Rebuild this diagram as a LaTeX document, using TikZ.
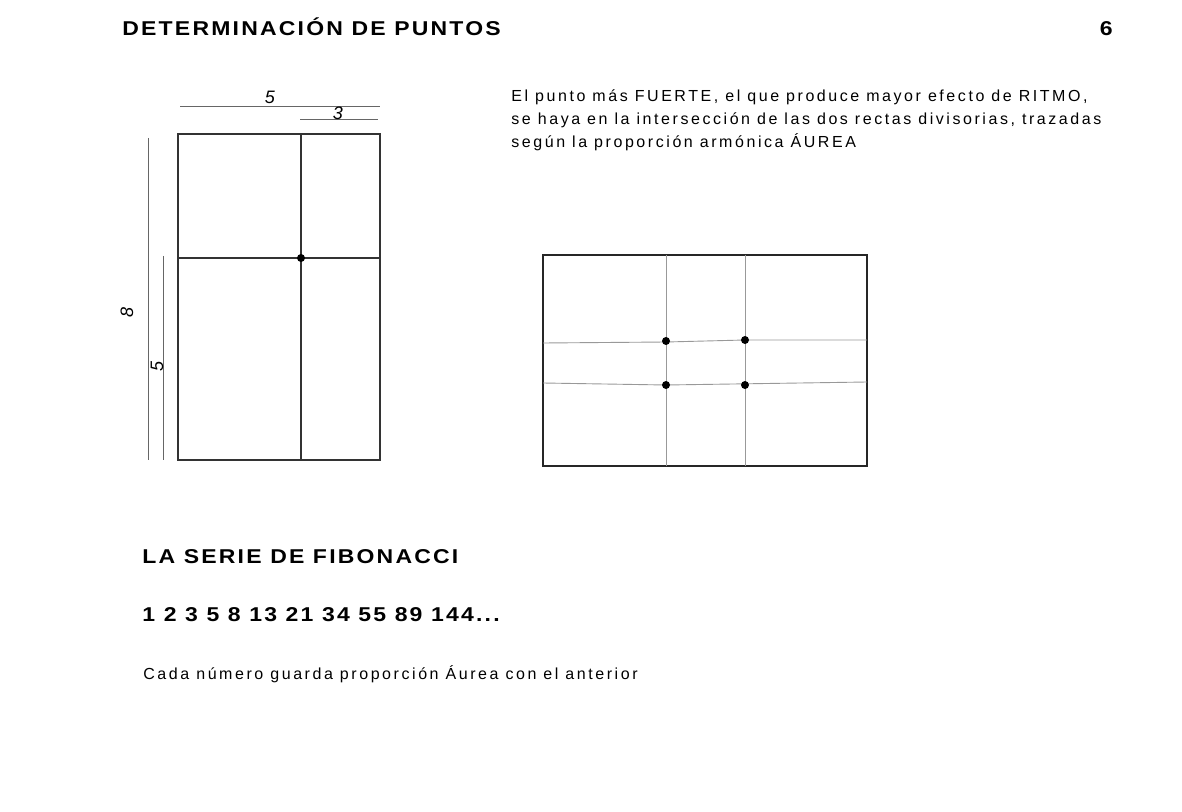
\documentclass[tikz,border=0pt]{standalone}
\usepackage{fontspec}
\setmainfont{Liberation Sans}
\newfontfamily\headfont[FakeStretch=1.15, LetterSpace=11]{Liberation Sans}
\newfontfamily\bodyfont[LetterSpace=16]{Liberation Sans}
\usepackage{tikz}
\usetikzlibrary{positioning}
\tikzset{every picture/.style={x=0.5pt, y=-0.5pt},
         heading/.style={font=\headfont\bfseries\fontsize{10}{12}\selectfont, anchor=base west, inner sep=0pt},
         bodytext/.style={font=\bodyfont\fontsize{8}{11.5}\selectfont, anchor=base west, inner sep=0pt},
         hand/.style={font=\rmfamily\itshape\fontsize{9}{9}\selectfont, inner sep=0pt},
         frame/.style={line width=1pt, black!85},
         divide/.style={line width=0.8pt, black!80},
         measure/.style={line width=0.5pt, black!60},
         faint/.style={line width=0.45pt, black!40}
        }

\begin{document}
\begin{tikzpicture}
\useasboundingbox (0,0) rectangle (1182,812);

%Heading
\node[heading] (title) at (122,36) {DETERMINACIÓN DE PUNTOS};
\node[heading, anchor=base east] (pagenum) at (1113,36) {6};

%First rectangle
\coordinate (topleft) at (178,134);
\coordinate (botright) at (380,460);
\draw[divide] (topleft) rectangle (botright);
\draw[divide] (301,134) -- (301,460);
\draw[divide] (178,258) -- (380,258);
\coordinate (P0) at (301,258);
\fill[black] (P0) circle (2pt);

%measures
\draw[measure] (180,107) -- (380,107);
\draw[measure] (300,120) -- (378,120);
\draw[measure] (148,138) -- (148,460);
\draw[measure] (163,256) -- (163,460);
\node[hand] (wfive) at (270,97) {5};
\node[hand] (wthree) at (338,113) {3};
\node[hand, rotate=90] (height) at (127,312) {8};
\node[hand, rotate=90] (hfive) at (157,366) {5};

%Text
\node[bodytext] (para1) at (511,101.5) {El punto más FUERTE, el que produce mayor efecto de RITMO,};
\node[bodytext] (para2) at (511,124.5) {se haya en la intersección de las dos rectas divisorias, trazadas};
\node[bodytext] (para3) at (511,147.5) {según la proporción armónica ÁUREA};

%Second rectangle
\draw[frame] (543,255) rectangle (867,466);
\draw[faint] (666,255) -- (666,466);
\draw[faint] (745,255) -- (745,466);
\draw[faint] (543,343) -- (666,342) -- (745,340) -- (867,340);
\draw[faint] (543,383) -- (666,385) -- (867,382);
\coordinate (P1) at (666,341);
\coordinate (P2) at (745,340);
\coordinate (P3) at (666,385);
\coordinate (P4) at (745,385);
\foreach \p in {P1,P2,P3,P4}
  \fill[black] (\p) circle (2pt);

%Fibonacci
\node[heading] (serie) at (142,563) {LA SERIE DE FIBONACCI};
\node[heading] (numbers) at (142,621) {1 2 3 5 8 13 21 34 55 89 144...};
\node[bodytext] (cada) at (143,679) {Cada número guarda proporción Áurea con el anterior};
\end{tikzpicture}
\end{document}
